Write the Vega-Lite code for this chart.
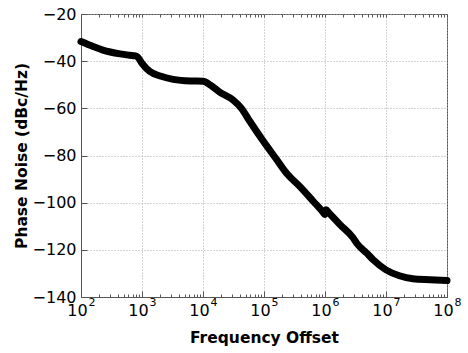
{
  "$schema": "https://vega.github.io/schema/vega-lite/v6.json",
  "autosize": "none",
  "width": 366,
  "height": 283,
  "padding": {"left": 81, "top": 14, "right": 21, "bottom": 56},
  "background": "white",
  "config": {
    "view": {"stroke": "#555555", "strokeWidth": 1},
    "font": "DejaVu Sans",
    "axis": {"labelFont": "DejaVu Sans", "titleFont": "DejaVu Sans", "labelColor": "#000000", "titleColor": "#000000", "tickColor": "#555555", "domainColor": "#555555"}
  },
  "data": {"values": [
    {"f": 100, "pn": -31.7},
    {"f": 158, "pn": -33.8},
    {"f": 229, "pn": -35.3},
    {"f": 437, "pn": -36.9},
    {"f": 631, "pn": -37.5},
    {"f": 776, "pn": -37.8},
    {"f": 851, "pn": -38.3},
    {"f": 1000, "pn": -40.9},
    {"f": 1349, "pn": -44.4},
    {"f": 1995, "pn": -46.3},
    {"f": 3236, "pn": -47.7},
    {"f": 6166, "pn": -48.4},
    {"f": 10000, "pn": -48.5},
    {"f": 13183, "pn": -50.1},
    {"f": 19055, "pn": -53.2},
    {"f": 30903, "pn": -56.4},
    {"f": 42658, "pn": -60.0},
    {"f": 58884, "pn": -65.6},
    {"f": 97724, "pn": -74.0},
    {"f": 162181, "pn": -81.8},
    {"f": 234423, "pn": -87.5},
    {"f": 389045, "pn": -93.2},
    {"f": 645654, "pn": -99.5},
    {"f": 944061, "pn": -104.3},
    {"f": 990000, "pn": -105.0},
    {"f": 1040000, "pn": -103.0},
    {"f": 1150000, "pn": -104.2},
    {"f": 1778279, "pn": -109.4},
    {"f": 2884032, "pn": -114.9},
    {"f": 3311311, "pn": -117.2},
    {"f": 4786301, "pn": -121.3},
    {"f": 6165950, "pn": -124.2},
    {"f": 10000000, "pn": -128.5},
    {"f": 16595869, "pn": -131.0},
    {"f": 27542287, "pn": -132.3},
    {"f": 52480746, "pn": -132.7},
    {"f": 100000000, "pn": -133.0}
  ]},
  "resolve": {"axis": {"x": "independent", "y": "independent"}},
  "layer": [
    {
      "mark": {"type": "line", "color": "#000000", "strokeWidth": 7, "strokeCap": "round", "strokeJoin": "round", "interpolate": "monotone"},
      "encoding": {
        "x": {
          "field": "f", "type": "quantitative",
          "scale": {"type": "log", "domain": [100, 100000000], "nice": false},
          "axis": {
            "orient": "bottom",
            "title": "Frequency Offset",
            "titleFontSize": 15.5, "titleFontWeight": "bold", "titlePadding": 12,
            "values": [100, 1000, 10000, 100000, 1000000, 10000000, 100000000],
            "labelExpr": "'10'",
            "labelFontSize": 16, "labelPadding": 11, "labelOffset": -4, "labelFlush": false, "labelOverlap": false,
            "tickSize": -6,
            "grid": true, "gridDash": [1, 2], "gridColor": "#aaaaaa", "gridWidth": 1
          }
        },
        "y": {
          "field": "pn", "type": "quantitative",
          "scale": {"domain": [-140, -20], "nice": false, "zero": false},
          "axis": {
            "orient": "left",
            "title": "Phase Noise (dBc/Hz)",
            "titleFontSize": 15.5, "titleFontWeight": "bold", "titlePadding": 3,
            "values": [-140, -120, -100, -80, -60, -40, -20],
            "labelFontSize": 16, "labelPadding": 11, "labelFlush": false,
            "tickSize": -6,
            "grid": true, "gridDash": [1, 2], "gridColor": "#aaaaaa", "gridWidth": 1
          }
        }
      }
    },
    {
      "mark": {"type": "line", "opacity": 0},
      "encoding": {
        "x": {
          "field": "f", "type": "quantitative",
          "axis": {
            "orient": "bottom",
            "title": null,
            "values": [100, 200, 300, 400, 500, 600, 700, 800, 900, 1000, 2000, 3000, 4000, 5000, 6000, 7000, 8000, 9000, 10000, 20000, 30000, 40000, 50000, 60000, 70000, 80000, 90000, 100000, 200000, 300000, 400000, 500000, 600000, 700000, 800000, 900000, 1000000, 2000000, 3000000, 4000000, 5000000, 6000000, 7000000, 8000000, 9000000, 10000000, 20000000, 30000000, 40000000, 50000000, 60000000, 70000000, 80000000, 90000000, 100000000],
            "labelExpr": "datum.value == 100 ? '2' : datum.value == 1000 ? '3' : datum.value == 10000 ? '4' : datum.value == 100000 ? '5' : datum.value == 1000000 ? '6' : datum.value == 10000000 ? '7' : datum.value == 100000000 ? '8' : ''",
            "labelFontSize": 11, "labelPadding": 2, "labelOffset": 10.5, "labelFlush": false, "labelOverlap": false,
            "tickSize": -3, "domain": false, "grid": false
          }
        },
        "y": {"field": "pn", "type": "quantitative", "axis": null}
      }
    },
    {
      "mark": {"type": "line", "opacity": 0},
      "encoding": {
        "x": {
          "field": "f", "type": "quantitative",
          "axis": {
            "orient": "top", "title": null, "labels": false,
            "values": [100, 200, 300, 400, 500, 600, 700, 800, 900, 1000, 2000, 3000, 4000, 5000, 6000, 7000, 8000, 9000, 10000, 20000, 30000, 40000, 50000, 60000, 70000, 80000, 90000, 100000, 200000, 300000, 400000, 500000, 600000, 700000, 800000, 900000, 1000000, 2000000, 3000000, 4000000, 5000000, 6000000, 7000000, 8000000, 9000000, 10000000, 20000000, 30000000, 40000000, 50000000, 60000000, 70000000, 80000000, 90000000, 100000000],
            "tickSize": -3, "domain": false, "grid": false
          }
        },
        "y": {"field": "pn", "type": "quantitative", "axis": null}
      }
    }
  ]
}
